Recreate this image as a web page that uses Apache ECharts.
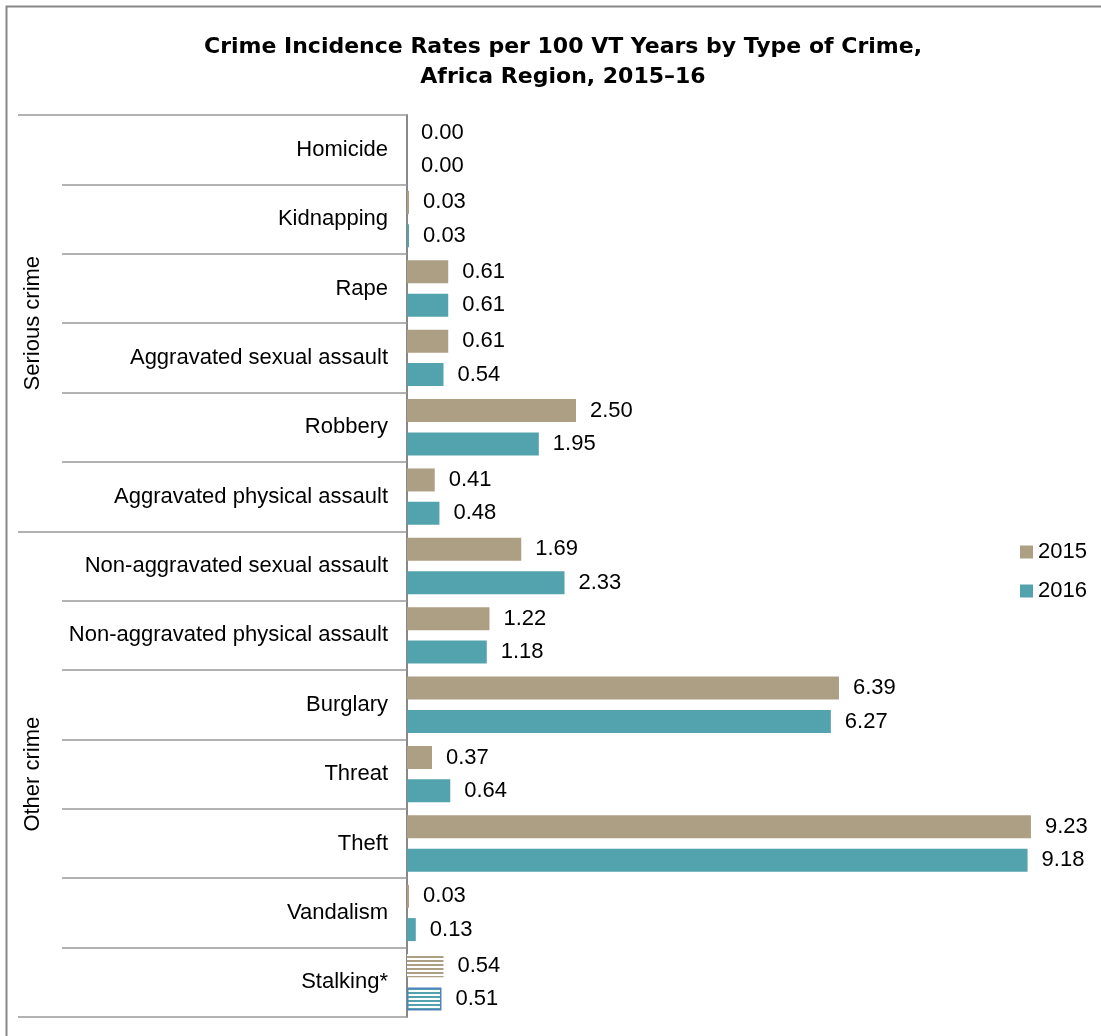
<!DOCTYPE html>
<html>
<head>
<meta charset="utf-8">
<script src="https://cdn.jsdelivr.net/npm/echarts@6/dist/echarts.min.js"></script>
<style>html,body{margin:0;padding:0;background:#fff}#c{width:1101px;height:1036px}</style>
</head>
<body>
<div id="c"></div>
<script>
const categories = ["Homicide","Kidnapping","Rape","Aggravated sexual assault","Robbery","Aggravated physical assault","Non-aggravated sexual assault","Non-aggravated physical assault","Burglary","Threat","Theft","Vandalism","Stalking*"];
const values2015 = [0.00,0.03,0.61,0.61,2.50,0.41,1.69,1.22,6.39,0.37,9.23,0.03,0.54];
const values2016 = [0.00,0.03,0.61,0.54,1.95,0.48,2.33,1.18,6.27,0.64,9.18,0.13,0.51];
const groups = ["Serious crime","Other crime"];
const groupBounds = [0,6,13];
const groupCenters = [3,9.5];

const C2015 = '#ad9f83', C2016 = '#52a3ae';
function stripes(color){
  const cv = document.createElement('canvas');
  cv.width = 8; cv.height = 4;
  const g = cv.getContext('2d');
  g.fillStyle = '#fff'; g.fillRect(0,0,8,4);
  g.fillStyle = color; g.fillRect(0,0,8,2);
  return {image: cv, repeat: 'repeat'};
}
function mk(vals, stalkStyle){
  return vals.map((v,i)=> i===vals.length-1 ? {value:v, itemStyle:stalkStyle} : v);
}
const FONT = 'Liberation Sans, Arial, sans-serif';
const chart = echarts.init(document.getElementById('c'));
const gridTop=115, gridBottom=19, gridLeft=407, gridRight=18;
const lbl = {show:true, position:'right', distance:14, formatter:p=>Number(p.value).toFixed(2), fontFamily:FONT, fontSize:22, color:'#000'};
chart.setOption({
  animation:false,
  title:{
    text:'Crime Incidence Rates per 100 VT Years by Type of Crime,\nAfrica Region, 2015–16',
    left:558, textAlign:'center', top:27,
    textStyle:{fontFamily:'DejaVu Sans, sans-serif', fontSize:22, fontWeight:'bold', color:'#000', lineHeight:30}
  },
  legend:{
    orient:'vertical', left:1015, top:536, itemGap:17, itemWidth:13, itemHeight:13,
    icon:'rect', textStyle:{fontFamily:FONT, fontSize:22, color:'#000'},
    data:['2015','2016']
  },
  grid:[
    {left:gridLeft, right:gridRight, top:gridTop, bottom:gridBottom},
    {left:gridLeft, right:gridRight, top:gridTop, bottom:gridBottom}
  ],
  xAxis:[
    {type:'value', min:0, max:10, show:false, gridIndex:0},
    {type:'value', min:0, max:10, show:false, gridIndex:1}
  ],
  yAxis:[
    {type:'category', data:categories, inverse:true, gridIndex:0,
     axisLine:{show:true, lineStyle:{color:'#888', width:2}},
     axisTick:{show:true, length:345, lineStyle:{color:'#999', width:1.5}},
     axisLabel:{fontFamily:FONT, fontSize:22, color:'#000', margin:19},
     splitLine:{show:false}},
    {type:'value', min:0, max:13, inverse:true, gridIndex:1,
     axisLine:{show:false},
     axisTick:{show:true, length:389, customValues:groupBounds, lineStyle:{color:'#999', width:1.5}},
     axisLabel:{show:false},
     splitLine:{show:false}}
  ],
  series:[
    {name:'2015', type:'bar', xAxisIndex:0, yAxisIndex:0, barWidth:23, barGap:'45%',
     itemStyle:{color:C2015},
     data: mk(values2015, {color: stripes(C2015)}),
     label:lbl},
    {name:'2016', type:'bar', xAxisIndex:0, yAxisIndex:0, barWidth:23, barGap:'45%',
     itemStyle:{color:C2016},
     data: mk(values2016, {color: stripes(C2016), borderColor:'#4f81bd', borderWidth:1.5}),
     label:lbl}
  ]
});
const gl = groups.map((g,i)=>{
  const y = chart.convertToPixel({yAxisIndex:1}, groupCenters[i]);
  return {type:'text', x:33, y:y, rotation:Math.PI/2, style:{text:g, fontFamily:FONT, fontSize:22, fill:'#000', align:'center', verticalAlign:'middle'}, silent:true};
});
chart.setOption({graphic:[
  {type:'rect', shape:{x:6.5,y:6.5,width:1200,height:1200}, style:{fill:null, stroke:'#888', lineWidth:2}, silent:true}
].concat(gl)});
</script>
</body>
</html>
